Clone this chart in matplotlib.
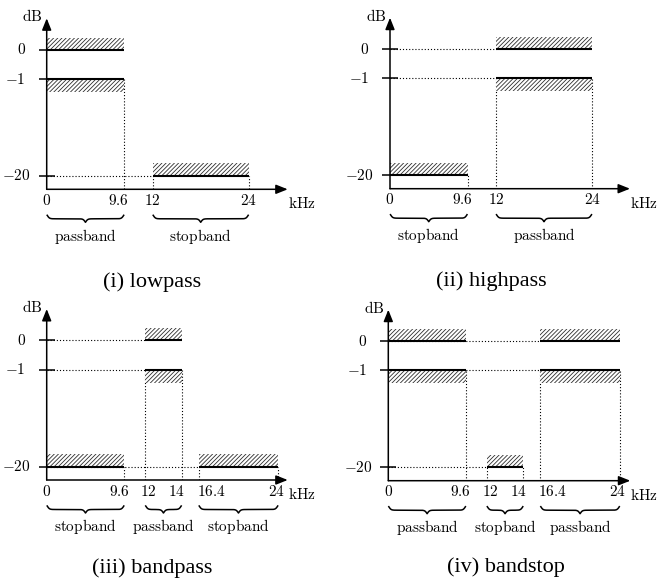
import numpy as np
import matplotlib.pyplot as plt
from matplotlib.patches import Rectangle
from matplotlib.lines import Line2D

plt.rcParams['mathtext.fontset'] = 'cm'
plt.rcParams['hatch.linewidth'] = 0.6

# ---------------- data ----------------
levels_db = [-20, -1, 0]
level_labels = [r'$-20$', r'$-1$', r'$0$']
pass_levels = [0, -1]
stop_level = -20

titles = ['(i) lowpass', '(ii) highpass', '(iii) bandpass', '(iv) bandstop']

edges_2 = [0, 9.6, 12, 24]
edges_3 = [0, 9.6, 12, 14, 16.4, 24]
edge_labels_2 = ['0', '9.6', '12', '24']
edge_labels_3 = ['0', '9.6', '12', '14', '16.4', '24']

bands_lowpass = [(0, 9.6, 'passband'), (12, 24, 'stopband')]
bands_highpass = [(0, 9.6, 'stopband'), (12, 24, 'passband')]
bands_bandpass = [(0, 9.6, 'stopband'), (12, 14, 'passband'), (16.4, 24, 'stopband')]
bands_bandstop = [(0, 9.6, 'passband'), (12, 14, 'stopband'), (16.4, 24, 'passband')]

panels = [
    (bands_lowpass, edges_2, edge_labels_2),
    (bands_highpass, edges_2, edge_labels_2),
    (bands_bandpass, edges_3, edge_labels_3),
    (bands_bandstop, edges_3, edge_labels_3),
]

# ---------------- layout (pixels) ----------------
W, H = 657, 587
origins = [(46.7, 189.3), (390, 188.7), (46.7, 480), (388.3, 480.7)]
ax_ws = [241, 240, 241, 242]
ax_h = 171
y_px = [13.5, 110.3, 139.7]                    # where -20, -1, 0 sit above the x axis
ylab_dx = [-16, -21, -21]                      # right edge of y labels from the axis
x_px_2 = [0, 77.5, 106, 202]
x_px_3 = [0, 77.6, 98.5, 135, 152, 231.5]
xlab_dx_2 = [0, -5.5, 0, 0]                    # nudges of x labels
xlab_dx_3 = [0, -5, 3.5, -5, 12.5, -2]
captions_xy = [(152, 282), (491, 281), (152, 568), (506, 567)]
hatch_up, hatch_down = 12, 13
hatch_kw = dict(facecolor='white', edgecolor='#2e2e2e', lw=0, hatch='////////', zorder=2)


def piecewise(src, dst):
    src = np.asarray(src, float)
    dst = np.asarray(dst, float)
    s0 = (dst[1] - dst[0]) / (src[1] - src[0])
    s1 = (dst[-1] - dst[-2]) / (src[-1] - src[-2])
    xs = np.concatenate([[src[0] - 1000], src, [src[-1] + 1000]])
    ys = np.concatenate([[dst[0] - 1000 * s0], dst, [dst[-1] + 1000 * s1]])
    return (lambda v: np.interp(v, xs, ys)), (lambda v: np.interp(v, ys, xs))


def brace(xa, xb, y_top, depth, beta=0.9):
    n = 301
    x = np.linspace(xa, xb, n)
    half = x[:n // 2 + 1]
    yh = 1 / (1 + np.exp(-beta * (half - half[0]))) + 1 / (1 + np.exp(-beta * (half - half[-1])))
    y = np.concatenate([yh, yh[-2::-1]])
    return x, y_top + (y - 0.5) * depth


fig = plt.figure(figsize=(W / 100, H / 100), dpi=100)
fy, iy = piecewise(levels_db, y_px)
dotted = dict(color='k', lw=0.8, linestyle=(0, (1, 1.8)), zorder=1)

for k, (bands, edges, elabels) in enumerate(panels):
    ox, oy = origins[k]
    ax_w = ax_ws[k]
    if len(edges) == 4:
        x_px, xlab_dx = x_px_2, xlab_dx_2
    else:
        x_px, xlab_dx = x_px_3, xlab_dx_3
    fx, ix = piecewise(edges, x_px)

    ax = fig.add_axes([ox / W, (H - oy) / H, ax_w / W, ax_h / H])
    ax.set_xscale('function', functions=(fx, ix))
    ax.set_yscale('function', functions=(fy, iy))
    ax.set_xlim(ix(0), ix(ax_w))
    ax.set_ylim(iy(0), iy(ax_h))
    ymin = iy(0)

    for s in ax.spines.values():
        s.set_visible(False)

    # horizontal reference lines
    for lv in levels_db:
        starts = [b[0] for b in bands if (lv == stop_level) == (b[2] == 'stopband')]
        if max(starts) > 0:
            ax.plot([0, max(starts)], [lv, lv], **dotted)

    for x0, x1, kind in bands:
        if kind == 'passband':
            for lv in pass_levels:
                ax.plot([x0, x1], [lv, lv], color='k', lw=1.5, solid_capstyle='butt', zorder=3)
            top = iy(fy(0) + hatch_up)
            ax.add_patch(Rectangle((x0, 0), x1 - x0, top, **hatch_kw))
            bot = iy(fy(-1) - hatch_down)
            ax.add_patch(Rectangle((x0, bot), x1 - x0, -1 - bot, **hatch_kw))
            low = -1
        else:
            ax.plot([x0, x1], [stop_level, stop_level], color='k', lw=1.5, solid_capstyle='butt', zorder=3)
            top = iy(fy(stop_level) + hatch_up + 0.5)
            ax.add_patch(Rectangle((x0, stop_level), x1 - x0, top - stop_level, **hatch_kw))
            low = stop_level
        for xe in (x0, x1):
            if xe > 0:
                ax.plot([xe, xe], [ymin, low], **dotted)

    # axes with arrow heads
    arrow = dict(arrowstyle='-|>,head_length=0.5,head_width=0.2', color='k', lw=1.1,
                 shrinkA=0, shrinkB=0, mutation_scale=14)
    ax.annotate('', xy=(0, 1), xytext=(0, 0), xycoords='axes fraction', arrowprops=arrow, zorder=5)
    ax.annotate('', xy=(1, 0), xytext=(0, 0), xycoords='axes fraction', arrowprops=arrow, zorder=5)

    ax.set_yticks(levels_db)
    ax.set_xticks([])
    ax.tick_params(axis='y', direction='inout', length=11.5, width=1.1, labelleft=False)
    ax.minorticks_off()

    for lv, lab, dx in zip(levels_db, level_labels, ylab_dx):
        fig.text((ox + dx) / W, 1 - (oy - fy(lv)) / H, lab, ha='right', va='center', size=11)
    for xe, lab, dx in zip(edges, elabels, xlab_dx):
        fig.text((ox + fx(xe) + dx) / W, 1 - (oy + 11) / H, '$' + lab + '$',
                 ha='center', va='center', size=11)

    fig.text((ox - 14) / W, 1 - (oy - ax_h - 2) / H, r'$\mathrm{dB}$', ha='center', va='center', size=11)
    fig.text((ox + ax_w) / W, 1 - (oy + 14.5) / H, r'$\mathrm{kHz}$', ha='left', va='center', size=11)

    for x0, x1, kind in bands:
        bx, by = brace(ox + fx(x0) + 0.5, ox + fx(x1) - 0.5, oy + 26, 7)
        fig.add_artist(Line2D(bx / W, 1 - by / H, transform=fig.transFigure, color='k', lw=1.1))
        mid = ox + (fx(x0) + fx(x1)) / 2
        fig.text(mid / W, 1 - (oy + 47) / H, r'$\mathrm{' + kind + '}$', ha='center', va='center', size=11)

    cx, cy = captions_xy[k]
    fig.text(cx / W, 1 - cy / H, titles[k], ha='center', va='center',
             family='Liberation Serif', size=16)

fig.savefig('out.png', dpi=100)
